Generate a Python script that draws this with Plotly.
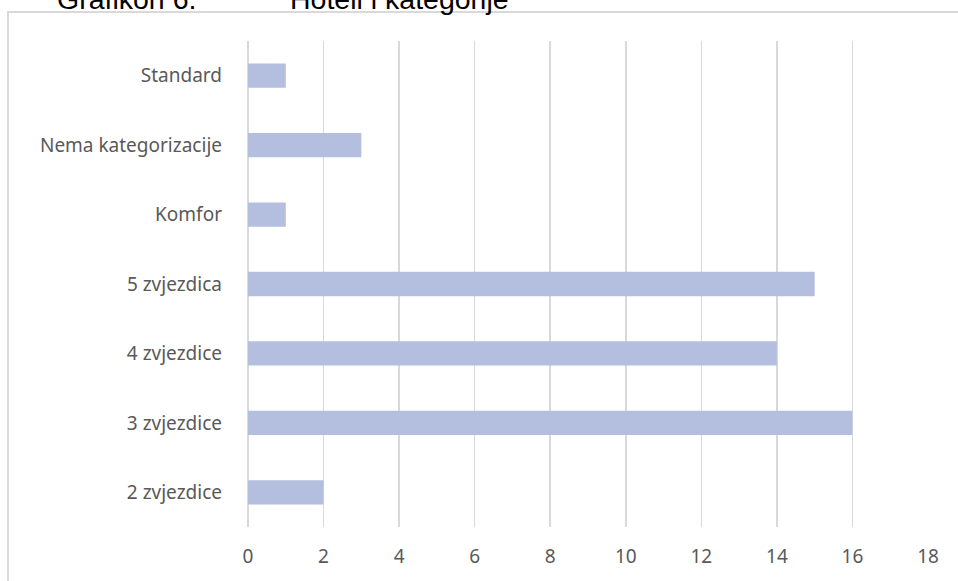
import plotly.graph_objects as go

categories = ["2 zvjezdice", "3 zvjezdice", "4 zvjezdice", "5 zvjezdica", "Komfor", "Nema kategorizacije", "Standard"]
values = [2, 16, 14, 15, 1, 3, 1]
x_ticks = [0, 2, 4, 6, 8, 10, 12, 14, 16, 18]

W, H = 958, 581
L, R, T, B = 248, 30, 41, 54
pw, ph = W - L - R, H - T - B

def px(xp):
    return (xp - L) / pw

def py(yp):
    return (H - B - yp) / ph

fig = go.Figure(go.Bar(
    y=categories, x=values, orientation="h",
    marker=dict(color="#b4bfe0", line=dict(width=0)),
    width=0.35,
))

fig.update_layout(
    width=W, height=H,
    margin=dict(l=L, r=R, t=T, b=B),
    paper_bgcolor="white", plot_bgcolor="white",
    showlegend=False,
    bargap=0.65,
    font=dict(family="Noto Sans", size=19, color="#595959"),
    xaxis=dict(range=[0, 18], tickvals=x_ticks, showgrid=True, gridcolor="#d9d9d9",
               gridwidth=1.5, zeroline=True, zerolinecolor="#d9d9d9", zerolinewidth=1.5,
               showline=False, ticks="", ticklabelstandoff=16, fixedrange=True),
    yaxis=dict(categoryorder="array", categoryarray=categories, range=[-0.5, 6.5],
               showgrid=False, zeroline=False, showline=False, ticks="",
               ticklabelstandoff=25, fixedrange=True),
    shapes=[dict(type="rect", xref="paper", yref="paper",
                 x0=px(8), x1=px(990), y0=py(620), y1=py(12),
                 line=dict(color="#d9d9d9", width=2), fillcolor="rgba(0,0,0,0)", layer="below")],
    annotations=[
        dict(text="Grafikon 6.", xref="paper", yref="paper", x=px(55), y=py(17),
             xanchor="left", yanchor="bottom", showarrow=False,
             font=dict(family="Liberation Sans", size=28.5, color="#000000")),
        dict(text="Hoteli i kategorije", xref="paper", yref="paper", x=px(288), y=py(17),
             xanchor="left", yanchor="bottom", showarrow=False,
             font=dict(family="Liberation Sans", size=28.5, color="#000000")),
    ],
)

fig.write_html("out.html", config={"displayModeBar": False, "staticPlot": True},
               post_script="document.body.style.margin='0';document.body.style.overflow='hidden';")
